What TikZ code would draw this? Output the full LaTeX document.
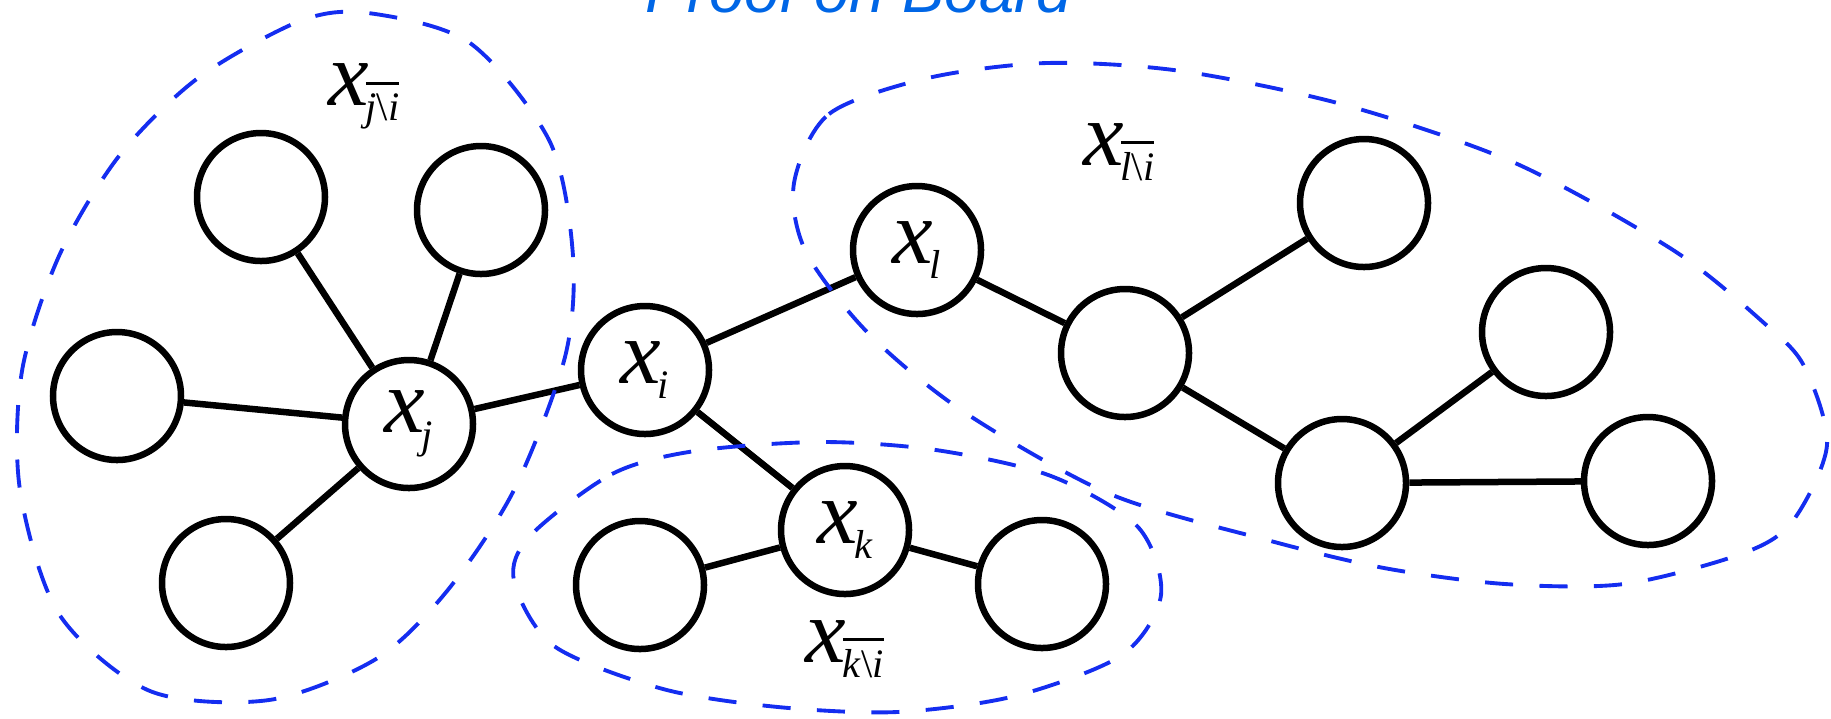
\documentclass[tikz,border=0pt]{standalone}
\usepackage{fontspec}
\setmainfont{Liberation Serif}
\newfontfamily\titlefont{Liberation Sans}
\usepackage{tikz}
\usetikzlibrary{calc}

\definecolor{grpblue}{RGB}{20,45,240}
\definecolor{titleblue}{RGB}{0,102,230}

% variable with a plain subscript, and with a barred "a\b" subscript
\newcommand{\xsub}[1]{\textit{x}\kern-1pt\raisebox{-4.5pt}{\fontsize{11.5}{11.5}\selectfont\textit{#1}}}
\newcommand{\xgrp}[2]{\textit{x}\kern-1pt\raisebox{-4.5pt}{\fontsize{11.5}{11.5}\selectfont
  \vbox{\hrule height 0.9pt\kern 2.5pt\hbox{\textit{#1}\textbackslash\textit{#2}}}}}

\begin{document}
\begin{tikzpicture}[
  vnode/.style={circle, draw, line width=1.85pt, minimum size=1.28cm, inner sep=0pt,
                fill=white, font=\fontsize{26}{26}\selectfont},
  edge/.style={line width=1.85pt},
  grp/.style={grpblue, line width=1.1pt, dash pattern=on 8pt off 7.5pt},
  lbl/.style={inner sep=0pt, anchor=base west, font=\fontsize{26}{26}\selectfont},
]
  \useasboundingbox (0,0) rectangle (18.31,-7.18);
  % Title (cut at the top edge)
  \node[anchor=base, inner sep=0pt, text=titleblue, font=\titlefont\itshape\fontsize{18}{18}\selectfont]
    (title) at (8.585,-0.12) {Proof on Board};
  % Centre and its neighbours
  \node[vnode] (xj) at (4.09,-4.24) {\xsub{j}};
  \node[vnode] (xi) at ($(xj)+(2.36,0.54)$) {\xsub{i}};
  \node[vnode] (xl) at ($(xi)+(2.72,1.20)$) {\xsub{l}};
  \node[vnode] (xk) at ($(xi)+(2.00,-1.60)$) {\xsub{k}};
  % Leaves of x_j
  \node[vnode] (ja) at ($(xj)+(-1.48,2.27)$) {};
  \node[vnode] (jb) at ($(xj)+(0.72,2.14)$) {};
  \node[vnode] (jc) at ($(xj)+(-2.92,0.28)$) {};
  \node[vnode] (jd) at ($(xj)+(-1.83,-1.59)$) {};
  % Leaves of x_k
  \node[vnode] (ka) at ($(xk)+(-2.05,-0.55)$) {};
  \node[vnode] (kb) at ($(xk)+(1.97,-0.54)$) {};
  % Subtree of x_l
  \node[vnode] (la) at ($(xl)+(2.08,-1.03)$) {};
  \node[vnode] (lb) at ($(la)+(2.39,1.50)$) {};
  \node[vnode] (lc) at ($(la)+(2.17,-1.30)$) {};
  \node[vnode] (ld) at ($(lc)+(2.04,1.51)$) {};
  \node[vnode] (le) at ($(lc)+(3.06,0.02)$) {};
  % Edges
  \foreach \a/\b in {ja/xj, jb/xj, jc/xj, jd/xj, xj/xi, xi/xl, xi/xk,
                     ka/xk, xk/kb, xl/la, la/lb, la/lc, lc/ld, lc/le}
    \draw[edge] (\a) -- (\b);
  % Group outlines
  \draw[grp] plot[smooth cycle] coordinates {
    (3.68,-0.13) (4.70,-0.43) (5.50,-1.42) (5.73,-2.56) (5.65,-3.57) (5.14,-4.90)
    (4.47,-5.91) (3.76,-6.59) (2.69,-7.00) (1.50,-6.91) (0.59,-6.14) (0.20,-4.90)
    (0.22,-3.71) (0.59,-2.56) (1.19,-1.56) (1.98,-0.78) (3.00,-0.21)};
  \draw[grp] plot[smooth cycle] coordinates {
    (7.94,-1.83) (8.29,-1.14) (9.28,-0.78) (10.47,-0.63) (11.81,-0.71) (13.45,-1.05)
    (15.15,-1.63) (16.73,-2.50) (17.64,-3.23) (18.04,-3.66) (18.27,-4.45) (17.92,-5.22)
    (17.41,-5.54) (16.24,-5.84) (15.05,-5.84) (13.84,-5.68) (12.67,-5.40) (11.10,-4.94)
    (9.64,-4.12) (8.69,-3.34) (8.06,-2.52)};
  \draw[grp] plot[smooth cycle] coordinates {
    (5.30,-5.36) (6.12,-4.74) (6.95,-4.51) (8.21,-4.42) (9.36,-4.50) (10.51,-4.76)
    (11.38,-5.27) (11.61,-5.95) (11.22,-6.55) (10.15,-6.96) (8.97,-7.12) (7.78,-7.07)
    (6.63,-6.89) (5.54,-6.46) (5.14,-5.81)};
  % Group labels
  \node[lbl] (gj) at (3.28,-1.05) {\xgrp{j}{i}};
  \node[lbl] (gl) at (10.83,-1.65) {\xgrp{l}{i}};
  \node[lbl] (gk) at (8.05,-6.62) {\xgrp{k}{i}};
\end{tikzpicture}
\end{document}
